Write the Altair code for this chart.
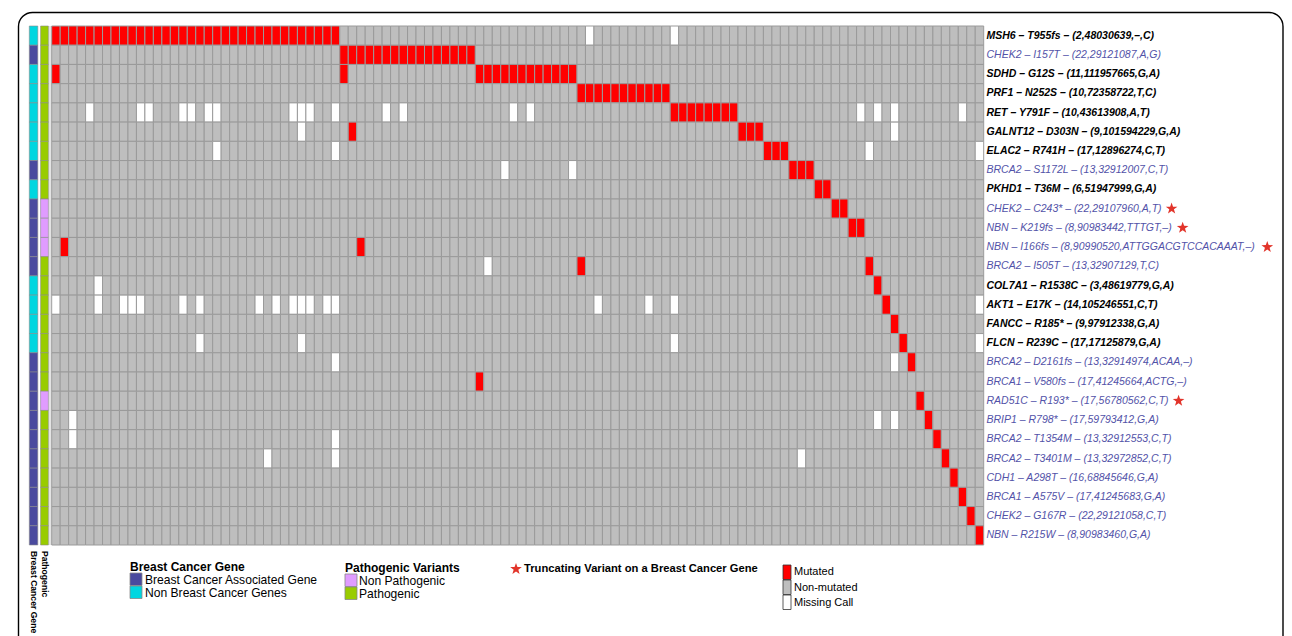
import math
import altair as alt
import pandas as pd

# ---- data -------------------------------------------------------------
variants = [
    "MSH6 – T955fs – (2,48030639,–,C)",
    "CHEK2 – I157T – (22,29121087,A,G)",
    "SDHD – G12S – (11,111957665,G,A)",
    "PRF1 – N252S – (10,72358722,T,C)",
    "RET – Y791F – (10,43613908,A,T)",
    "GALNT12 – D303N – (9,101594229,G,A)",
    "ELAC2 – R741H – (17,12896274,C,T)",
    "BRCA2 – S1172L – (13,32912007,C,T)",
    "PKHD1 – T36M – (6,51947999,G,A)",
    "CHEK2 – C243* – (22,29107960,A,T)",
    "NBN – K219fs – (8,90983442,TTTGT,–)",
    "NBN – I166fs – (8,90990520,ATTGGACGTCCACAAAT,–)",
    "BRCA2 – I505T – (13,32907129,T,C)",
    "COL7A1 – R1538C – (3,48619779,G,A)",
    "AKT1 – E17K – (14,105246551,C,T)",
    "FANCC – R185* – (9,97912338,G,A)",
    "FLCN – R239C – (17,17125879,G,A)",
    "BRCA2 – D2161fs – (13,32914974,ACAA,–)",
    "BRCA1 – V580fs – (17,41245664,ACTG,–)",
    "RAD51C – R193* – (17,56780562,C,T)",
    "BRIP1 – R798* – (17,59793412,G,A)",
    "BRCA2 – T1354M – (13,32912553,C,T)",
    "BRCA2 – T3401M – (13,32972852,C,T)",
    "CDH1 – A298T – (16,68845646,G,A)",
    "BRCA1 – A575V – (17,41245683,G,A)",
    "CHEK2 – G167R – (22,29121058,C,T)",
    "NBN – R215W – (8,90983460,G,A)",
]

# 1 = breast cancer associated gene
breast_gene = [0, 1, 0, 0, 0, 0, 0, 1, 0, 1, 1, 1, 1, 0, 0, 0, 0,
               1, 1, 1, 1, 1, 1, 1, 1, 1, 1]
# 1 = pathogenic variant
pathogenic = [1, 1, 1, 1, 1, 1, 1, 1, 1, 0, 0, 0, 1, 1, 1, 1, 1,
              1, 1, 0, 1, 1, 1, 1, 1, 1, 1]
# truncating variants on a breast cancer gene (row indices)
truncating = [9, 10, 11, 19]

n_samples = 110

# mutated samples per variant, as inclusive (first, last) sample spans (0-based)
mutated_spans = [
    [(0, 33)],
    [(34, 49)],
    [(0, 0), (34, 34), (50, 61)],
    [(62, 72)],
    [(73, 80)],
    [(35, 35), (81, 83)],
    [(84, 86)],
    [(87, 89)],
    [(90, 91)],
    [(92, 93)],
    [(94, 95)],
    [(1, 1), (36, 36)],
    [(62, 62), (96, 96)],
    [(97, 97)],
    [(98, 98)],
    [(99, 99)],
    [(100, 100)],
    [(101, 101)],
    [(50, 50)],
    [(102, 102)],
    [(103, 103)],
    [(104, 104)],
    [(105, 105)],
    [(106, 106)],
    [(107, 107)],
    [(108, 108)],
    [(109, 109)],
]

# samples with a missing call per variant
missing = {
    0: [63, 73],
    4: [4, 10, 11, 15, 16, 18, 19, 28, 29, 30, 33, 39, 41, 54, 56, 95, 97, 99, 107],
    5: [29, 99],
    6: [19, 33, 96, 109],
    7: [53, 61],
    12: [51],
    13: [5],
    14: [0, 5, 8, 9, 10, 15, 17, 24, 26, 28, 29, 30, 32, 33, 64, 70, 73, 109],
    16: [17, 29, 73, 109],
    17: [33, 99],
    20: [2, 97, 99],
    21: [2, 33],
    22: [25, 33, 88],
}

status_names = ["Mutated", "Non-mutated", "Missing Call"]

# ---- tables ---------------------------------------------------------
records = []
for r in range(len(variants)):
    mut = set()
    for a, b in mutated_spans[r]:
        mut.update(range(a, b + 1))
    miss = set(missing.get(r, []))
    for c in range(n_samples):
        if c in mut:
            s = "Mutated"
        elif c in miss:
            s = "Missing Call"
        else:
            s = "Non-mutated"
        records.append({"row": r, "sample": c, "status": s})
cells = pd.DataFrame(records)

rows = pd.DataFrame({
    "row": list(range(len(variants))),
    "variant": variants,
    "bc": breast_gene,
    "gene": ["Breast Cancer Associated Gene" if b else "Non Breast Cancer Genes" for b in breast_gene],
    "path": ["Pathogenic" if p else "Non Pathogenic" for p in pathogenic],
})

# ---- layout -----------------------------------------------------------
OX, OY = 51.7, 26.0          # top-left corner of the heat map on the page
W, H = 932.0, 519.0          # heat map size
PAGE_W, PAGE_H = 1292, 636

FONT = "Liberation Sans"
FS = 10.5

RED = "#FF0000"
GREY = "#BEBEBE"
BC_BLUE = "#4A4A9E"
CYAN = "#00D6E0"
GREEN = "#99CC00"
PINK = "#E09CFF"
TXT_BLUE = "#5252A8"
STAR = "#E2342A"

# five-pointed star symbol path in the unit square
_pts = []
for k in range(10):
    ang = math.radians(-90 + 36 * k)
    rad = 1.0 if k % 2 == 0 else 0.40
    _pts.append(f"{rad * math.cos(ang):.4f},{rad * math.sin(ang):.4f}")
STAR_PATH = "M" + "L".join(_pts) + "Z"

one = pd.DataFrame({"k": [0]})


def px(x):
    return x - OX


def py(y):
    return y - OY


yenc = alt.Y("row:O", axis=None, scale=alt.Scale(paddingInner=0, paddingOuter=0))

# main grid
grid = alt.Chart(cells).mark_rect(stroke="#9A9A9A", strokeWidth=1).encode(
    x=alt.X("sample:O", axis=None, scale=alt.Scale(paddingInner=0, paddingOuter=0)),
    y=yenc,
    color=alt.Color("status:N", legend=None,
                    scale=alt.Scale(domain=status_names, range=[RED, GREY, "#FFFFFF"])),
)

# annotation strips
gene_strip = alt.Chart(rows).mark_rect(stroke="#8A8A8A", strokeWidth=0.6).encode(
    x=alt.value(px(29.3)), x2=alt.value(px(37.8)), y=yenc,
    color=alt.Color("gene:N", legend=None,
                    scale=alt.Scale(domain=["Breast Cancer Associated Gene", "Non Breast Cancer Genes"],
                                    range=[BC_BLUE, CYAN])),
)
path_strip = alt.Chart(rows).mark_rect(stroke="#8A8A8A", strokeWidth=0.6).encode(
    x=alt.value(px(40.6)), x2=alt.value(px(48.4)), y=yenc,
    color=alt.Color("path:N", legend=None,
                    scale=alt.Scale(domain=["Non Pathogenic", "Pathogenic"],
                                    range=[PINK, GREEN])),
)
sep = alt.Chart(one).mark_rule(color="#DADADA", strokeWidth=1.5).encode(
    x=alt.value(px(50.0)), y=alt.value(0), y2=alt.value(H))

# row labels: breast cancer genes in blue, others in bold black
labels_bc = alt.Chart(rows).transform_filter("datum.bc == 1").mark_text(
    align="left", baseline="middle", font=FONT, fontSize=FS,
    fontStyle="italic", fontWeight="normal", color=TXT_BLUE).encode(
    x=alt.value(px(986.5)), y=yenc, text="variant:N")
labels_other = alt.Chart(rows).transform_filter("datum.bc == 0").mark_text(
    align="left", baseline="middle", font=FONT, fontSize=FS,
    fontStyle="italic", fontWeight="bold", color="black").encode(
    x=alt.value(px(986.5)), y=yenc, text="variant:N")

# Liberation Sans (Arial metrics) advance widths, regular, in 1/1000 em
ADV = {" ": 278, "(": 333, ")": 333, ",": 278, "–": 556, "-": 333, "*": 389,
       "A": 667, "B": 667, "C": 722, "D": 722, "E": 667, "F": 611, "G": 778,
       "H": 722, "I": 278, "K": 667, "L": 556, "M": 833, "N": 722, "P": 667,
       "R": 722, "S": 667, "T": 611, "V": 667, "W": 944, "Y": 667,
       "f": 278, "s": 500}


def text_width(s, size):
    return sum(ADV.get(ch, 556) for ch in s) * size / 1000.0


layers = [sep, grid, gene_strip, path_strip, labels_bc, labels_other]

# star after each truncating variant label
for r in truncating:
    sx = 986.5 + text_width(variants[r], FS) + 10
    layers.append(
        alt.Chart(rows).transform_filter(f"datum.row == {r}").mark_point(
            shape=STAR_PATH, filled=True, size=150, color=STAR, opacity=1).encode(
            x=alt.value(px(sx)), y=yenc)
    )

# frame around the figure
frame = alt.Chart(one).mark_rect(fillOpacity=0, stroke="black", strokeWidth=1.4,
                                 cornerRadius=14).encode(
    x=alt.value(px(18.5)), x2=alt.value(px(1283)),
    y=alt.value(py(12.5)), y2=alt.value(py(700)))
layers.append(frame)


def text(t, x, y, size, weight="normal", angle=0, color="black"):
    return alt.Chart(one).mark_text(text=t, align="left", baseline="middle", font=FONT,
                                    fontSize=size, fontWeight=weight, angle=angle,
                                    color=color).encode(
        x=alt.value(px(x)), y=alt.value(py(y)))


def box(x, y, w, h, fill, stroke="#555555"):
    return alt.Chart(one).mark_rect(color=fill, stroke=stroke, strokeWidth=0.8).encode(
        x=alt.value(px(x)), x2=alt.value(px(x + w)),
        y=alt.value(py(y)), y2=alt.value(py(y + h)))


# strip titles under the annotation columns
layers += [
    text("Breast Cancer Gene", 33.5, 551, 8.6, "bold", angle=90),
    text("Pathogenic", 44.5, 551, 8.6, "bold", angle=90),
]

# legend: gene class
layers += [
    text("Breast Cancer Gene", 130, 567, 12, "bold"),
    box(130, 573, 12, 12.5, BC_BLUE, "#888888"),
    text("Breast Cancer Associated Gene", 145, 579.5, 12.1),
    box(130, 586, 12, 12.5, CYAN, "#888888"),
    text("Non Breast Cancer Genes", 145, 592.5, 12.1),
]
# legend: pathogenicity
layers += [
    text("Pathogenic Variants", 345, 568, 12, "bold"),
    box(345, 574, 12, 12.5, PINK, "#888888"),
    text("Non Pathogenic", 359, 581, 12.1),
    box(345, 587, 12, 12.5, GREEN, "#888888"),
    text("Pathogenic", 359, 594, 12.1),
]
# legend: truncating star
layers += [
    alt.Chart(one).mark_point(shape=STAR_PATH, filled=True, size=150, color=STAR, opacity=1).encode(
        x=alt.value(px(516)), y=alt.value(py(569))),
    text("Truncating Variant on a Breast Cancer Gene", 524, 569, 11.2, "bold"),
]
# legend: call status
status_fill = [RED, GREY, "#FFFFFF"]
for i in range(3):
    layers += [
        box(783, 565 + i * 15, 8, 14.5, status_fill[i], "#333333"),
        text(status_names[i], 794, 572 + i * 15.5, 11),
    ]

chart = alt.layer(*layers).properties(
    width=W, height=H,
    autosize=alt.AutoSizeParams(type="none"),
    padding={"left": OX, "top": OY, "right": PAGE_W - OX - W, "bottom": PAGE_H - OY - H},
    background="white",
).resolve_scale(color="independent").configure_view(stroke=None)

chart.save("out.html", embed_options={"renderer": "svg", "actions": False})
